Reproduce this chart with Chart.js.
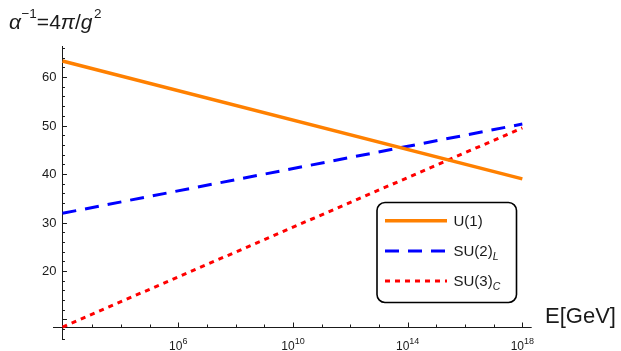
<!DOCTYPE html>
<html>
<head>
<meta charset="utf-8">
<script src="https://cdn.jsdelivr.net/npm/chart.js@4"></script>
<style>
  html, body { margin: 0; padding: 0; background: #fff; overflow: hidden; }
  canvas { display: block; }
</style>
</head>
<body>
<canvas id="c" width="621" height="351"></canvas>
<script>
// Running inverse couplings, one loop, from M_Z up to 10^18 GeV
const energies = [91.19, 1e18];
const u1Values = [63.3, 39.0];
const su2Values = [31.9, 50.3];
const su3Values = [8.45, 49.5];

const seriesNames = ['U(1)', 'SU(2)', 'SU(3)'];
const seriesSubscripts = ['', 'L', 'C'];

// axes cross at the lowest energy and at the lowest value
const axisOrigin = { x: 91.19, y: 8.45 };

const xMajorTicks = [1e6, 1e10, 1e14, 1e18];
const xMajorExponents = ['6', '10', '14', '18'];
const xMinorTicks = [1e3, 1e4, 1e5, 1e7, 1e8, 1e9, 1e11, 1e12, 1e13, 1e15, 1e16, 1e17];
const yMajorTicks = [10, 20, 30, 40, 50, 60];
const yTickLabels = ['', '20', '30', '40', '50', '60'];
const yMinorTicks = [6, 8, 12, 14, 16, 18, 22, 24, 26, 28, 32, 34, 36, 38, 42, 44, 46, 48, 52, 54, 56, 58, 62, 64, 66];

const FONT = '"Liberation Sans", Arial, Helvetica, sans-serif';
const INK = '#1a1a1a';

function toPoints(values) {
  return energies.map((e, i) => ({ x: e, y: values[i] }));
}

// measures / draws a run of text pieces (italic, raised or lowered)
function richWidth(ctx, parts) {
  let w = 0;
  for (const p of parts) {
    ctx.font = (p.italic ? 'italic ' : '') + p.size + 'px ' + FONT;
    w += ctx.measureText(p.text).width + (p.gap || 0);
  }
  return w;
}
function drawRich(ctx, x, y, parts) {
  ctx.textBaseline = 'alphabetic';
  ctx.textAlign = 'left';
  for (const p of parts) {
    ctx.font = (p.italic ? 'italic ' : '') + p.size + 'px ' + FONT;
    ctx.fillText(p.text, x, y + (p.dy || 0));
    x += ctx.measureText(p.text).width + (p.gap || 0);
  }
  return x;
}

const axesPlugin = {
  id: 'mathAxes',
  beforeDatasetsDraw(chart) {
    const { ctx, chartArea: a, scales: { x, y } } = chart;
    const ox = x.getPixelForValue(axisOrigin.x);
    const oy = y.getPixelForValue(axisOrigin.y);
    ctx.save();
    ctx.strokeStyle = INK;
    ctx.lineWidth = 1;
    ctx.beginPath();
    ctx.moveTo(a.left, Math.round(oy) + 0.5);
    ctx.lineTo(a.right, Math.round(oy) + 0.5);
    ctx.moveTo(Math.round(ox) + 0.5, a.top);
    ctx.lineTo(Math.round(ox) + 0.5, a.bottom);
    // inward ticks on the energy axis
    for (const v of xMajorTicks) {
      const px = Math.round(x.getPixelForValue(v)) + 0.5;
      ctx.moveTo(px, oy); ctx.lineTo(px, oy - 4.5);
    }
    for (const v of xMinorTicks) {
      const px = Math.round(x.getPixelForValue(v)) + 0.5;
      ctx.moveTo(px, oy); ctx.lineTo(px, oy - 2.5);
    }
    // inward ticks on the coupling axis
    for (const v of yMajorTicks) {
      const py = Math.round(y.getPixelForValue(v)) + 0.5;
      ctx.moveTo(ox, py); ctx.lineTo(ox + 4.5, py);
    }
    for (const v of yMinorTicks) {
      const py = Math.round(y.getPixelForValue(v)) + 0.5;
      ctx.moveTo(ox, py); ctx.lineTo(ox + 2.5, py);
    }
    ctx.stroke();

    // tick labels
    ctx.fillStyle = INK;
    ctx.font = '13px ' + FONT;
    ctx.textAlign = 'right';
    ctx.textBaseline = 'middle';
    yMajorTicks.forEach((v, i) => {
      if (yTickLabels[i]) ctx.fillText(yTickLabels[i], ox - 6, y.getPixelForValue(v) + 0.5);
    });
    xMajorTicks.forEach((v, i) => {
      const parts = [
        { text: '10', size: 12 },
        { text: xMajorExponents[i], size: 9, dy: -5.5 }
      ];
      const w = richWidth(ctx, parts);
      drawRich(ctx, x.getPixelForValue(v) - w / 2, 349.5, parts);
    });

    // axis titles
    drawRich(ctx, 9, 28.5, [
      { text: 'α', size: 21, italic: true, gap: 0.5 },
      { text: '−1', size: 13.5, dy: -10.5 },
      { text: '=4', size: 21 },
      { text: 'π', size: 21, italic: true },
      { text: '/', size: 21 },
      { text: 'g', size: 21, italic: true, gap: 1.5 },
      { text: '2', size: 13.5, dy: -10.5 }
    ]);
    ctx.font = '22px ' + FONT;
    ctx.textAlign = 'left';
    ctx.textBaseline = 'alphabetic';
    ctx.fillText('E[GeV]', 545, 323);
    ctx.restore();
  },
  afterDraw(chart) {
    const { ctx } = chart;
    ctx.save();
    // legend frame
    ctx.beginPath();
    ctx.roundRect(377, 202.5, 139.5, 100, 8);
    ctx.fillStyle = '#fff';
    ctx.fill();
    ctx.lineWidth = 1.6;
    ctx.strokeStyle = '#000';
    ctx.stroke();
    const rows = [220.7, 251, 281];
    chart.data.datasets.forEach((ds, i) => {
      const ry = rows[i];
      ctx.beginPath();
      ctx.setLineDash(ds.borderDash || []);
      ctx.lineDashOffset = 0;
      ctx.lineWidth = ds.borderWidth;
      ctx.strokeStyle = ds.borderColor;
      ctx.moveTo(385, ry);
      ctx.lineTo(447, ry);
      ctx.stroke();
      ctx.setLineDash([]);
      ctx.fillStyle = INK;
      const parts = [{ text: seriesNames[i], size: 15 }];
      if (seriesSubscripts[i]) parts.push({ text: seriesSubscripts[i], size: 10.5, italic: true, dy: 4 });
      drawRich(ctx, 453.5, ry + 5.3, parts);
    });
    ctx.restore();
  }
};

new Chart(document.getElementById('c'), {
  type: 'line',
  data: {
    datasets: [
      { label: 'U(1)', data: toPoints(u1Values), borderColor: '#FF8000', borderWidth: 3.5, borderDash: [] },
      { label: 'SU(2)_L', data: toPoints(su2Values), borderColor: '#0000FF', borderWidth: 3, borderDash: [14, 9] },
      { label: 'SU(3)_C', data: toPoints(su3Values), borderColor: '#FF0000', borderWidth: 3, borderDash: [5, 5] }
    ]
  },
  options: {
    responsive: false,
    devicePixelRatio: 1,
    animation: false,
    layout: { padding: { left: 53, right: 89.3, top: 46, bottom: 11 } },
    elements: { point: { radius: 0 }, line: { tension: 0, fill: false, borderCapStyle: 'butt' } },
    scales: {
      x: { type: 'logarithmic', min: Math.pow(10, 1.63), max: Math.pow(10, 18.327), display: false },
      y: { type: 'linear', min: 5.77, max: 66.4, display: false }
    },
    plugins: { legend: { display: false }, tooltip: { enabled: false } }
  },
  plugins: [axesPlugin]
});
</script>
</body>
</html>
